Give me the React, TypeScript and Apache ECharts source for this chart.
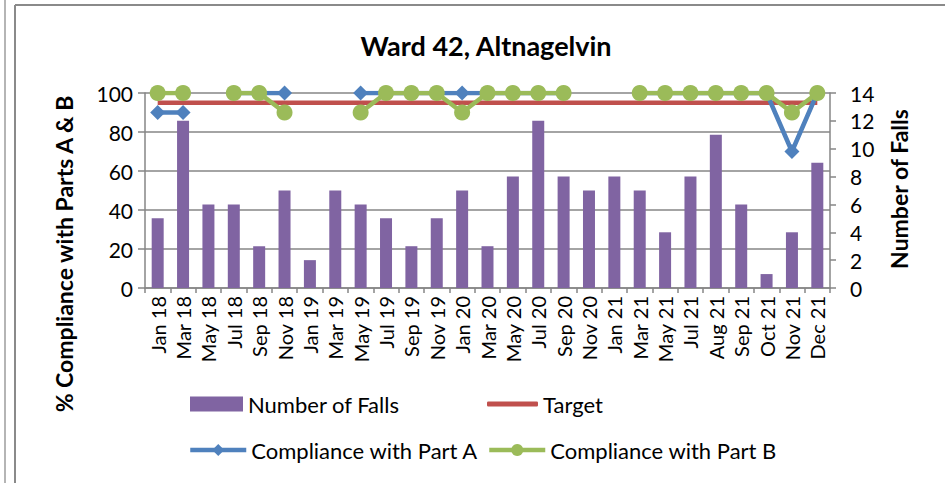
import React, { useEffect, useRef } from "react";
import * as echarts from "echarts";

const categories = ["Jan 18","Mar 18","May 18","Jul 18","Sep 18","Nov 18","Jan 19","Mar 19","May 19","Jul 19","Sep 19","Nov 19","Jan 20","Mar 20","May 20","Jul 20","Sep 20","Nov 20","Jan 21","Mar 21","May 21","Jul 21","Aug 21","Sep 21","Oct 21","Nov 21","Dec 21"];
const falls = [5,12,6,6,3,7,2,7,6,5,3,5,7,3,8,12,8,7,8,7,4,8,11,6,1,4,9];
const target = [95,95,95,95,95,95,95,95,95,95,95,95,95,95,95,95,95,95,95,95,95,95,95,95,95,95,95];
const partA = [90,90,null,100,100,100,null,null,100,100,100,100,100,100,100,100,100,null,null,100,100,100,100,100,100,70,100];
const partB = [100,100,null,100,100,90,null,null,90,100,100,100,90,100,100,100,100,null,null,100,100,100,100,100,100,90,100];
const leftTicks = [0, 100, 20];
const rightTicks = [0, 14, 2];

const FONT = "Lato";
const GRAY = "#868686";
const PURPLE = "#8064A2";
const RED = "#C0504D";
const BLUE = "#4F81BD";
const GREEN = "#9BBB59";

export default function App() {
  const ref = useRef<HTMLDivElement>(null);
  useEffect(() => {
    const chart = echarts.init(ref.current!, null, { renderer: "svg" });
    const legendBase = {
      itemHeight: 15,
      textStyle: { fontFamily: FONT, fontSize: 22, color: "#000", padding: [0, 0, 0, 0] },
      selectedMode: false,
      padding: 0,
      itemGap: 0,
    };
    chart.setOption({
      animation: false,
      backgroundColor: "#fff",
      title: {
        text: "Ward 42, Altnagelvin",
        left: 481,
        textAlign: "center",
        top: 27,
        textStyle: { fontFamily: FONT, fontSize: 27, fontWeight: "bold", color: "#000" },
      },
      grid: { left: 145, right: 115, top: 93, bottom: 195 },
      legend: [
        { ...legendBase, left: 190, top: 393, itemWidth: 53, data: [{ name: "Number of Falls", icon: "rect" }] },
        {
          ...legendBase, left: 487, top: 393, itemWidth: 51, itemHeight: 5,
          data: [{ name: "Target", icon: "roundRect", itemStyle: { color: RED } }],
        },
        {
          ...legendBase, left: 188, top: 439, itemWidth: 56,
          lineStyle: { width: 4.5 },
          data: ["Compliance with Part A"],
        },
        {
          ...legendBase, left: 487, top: 439, itemWidth: 56,
          lineStyle: { width: 4.5 },
          data: ["Compliance with Part B"],
        },
      ],
      xAxis: {
        type: "category",
        data: categories,
        boundaryGap: true,
        axisLine: { lineStyle: { color: GRAY, width: 1.5 } },
        axisTick: { show: true, length: 5, lineStyle: { color: GRAY, width: 1.5 } },
        axisLabel: { rotate: 90, interval: 0, fontFamily: FONT, fontSize: 20, color: "#000", margin: 8 },
      },
      yAxis: [
        {
          type: "value",
          min: leftTicks[0],
          max: leftTicks[1],
          interval: leftTicks[2],
          position: "left",
          axisLine: { show: true, lineStyle: { color: GRAY, width: 1.5 } },
          axisTick: { show: true, length: 7, lineStyle: { color: GRAY, width: 1.5 } },
          axisLabel: { fontFamily: FONT, fontSize: 21, color: "#000", margin: 12 },
          splitLine: { show: true, lineStyle: { color: GRAY, width: 1.5 } },
        },
        {
          type: "value",
          min: rightTicks[0],
          max: rightTicks[1],
          interval: rightTicks[2],
          position: "right",
          axisLine: { show: true, lineStyle: { color: GRAY, width: 1.5 } },
          axisTick: { show: true, length: 6, lineStyle: { color: GRAY, width: 1.5 } },
          axisLabel: { fontFamily: FONT, fontSize: 21, color: "#000", margin: 20 },
          splitLine: { show: false },
        },
      ],
      series: [
        {
          name: "Number of Falls",
          type: "bar",
          yAxisIndex: 1,
          data: falls,
          barWidth: 12,
          itemStyle: { color: PURPLE },
        },
        {
          name: "Target",
          type: "line",
          yAxisIndex: 0,
          data: target,
          symbol: "none",
          lineStyle: { color: RED, width: 4.5 },
          itemStyle: { color: RED },
        },
        {
          name: "Compliance with Part A",
          type: "line",
          yAxisIndex: 0,
          data: partA,
          symbol: "diamond",
          symbolSize: 15,
          showAllSymbol: true,
          connectNulls: false,
          lineStyle: { color: BLUE, width: 4.5 },
          itemStyle: { color: BLUE },
        },
        {
          name: "Compliance with Part B",
          type: "line",
          yAxisIndex: 0,
          data: partB,
          symbol: "circle",
          symbolSize: 16,
          showAllSymbol: true,
          connectNulls: false,
          lineStyle: { color: GREEN, width: 4.5 },
          itemStyle: { color: GREEN },
        },
      ],
      graphic: [
        { type: "line", shape: { x1: 5, y1: 0, x2: 5, y2: 483 }, style: { stroke: "#b5b5b5", lineWidth: 2 } },
        { type: "line", shape: { x1: 15, y1: 5, x2: 15, y2: 483 }, style: { stroke: "#8a8a8a", lineWidth: 2 } },
        { type: "line", shape: { x1: 15, y1: 5, x2: 945, y2: 5 }, style: { stroke: "#8a8a8a", lineWidth: 2 } },
        {
          type: "text",
          x: 64,
          y: 254,
          rotation: Math.PI / 2,
          style: {
            text: "% Compliance with Parts A & B",
            fontFamily: FONT,
            fontSize: 23,
            fontWeight: "bold",
            fill: "#000",
            align: "center",
            verticalAlign: "middle",
          },
        },
        {
          type: "text",
          x: 899,
          y: 189,
          rotation: Math.PI / 2,
          style: {
            text: "Number of Falls",
            fontFamily: FONT,
            fontSize: 23,
            fontWeight: "bold",
            fill: "#000",
            align: "center",
            verticalAlign: "middle",
          },
        },
      ],
    });
    return () => chart.dispose();
  }, []);
  return <div ref={ref} style={{ position: "fixed", left: 0, top: 0, width: 945, height: 483 }} />;
}
